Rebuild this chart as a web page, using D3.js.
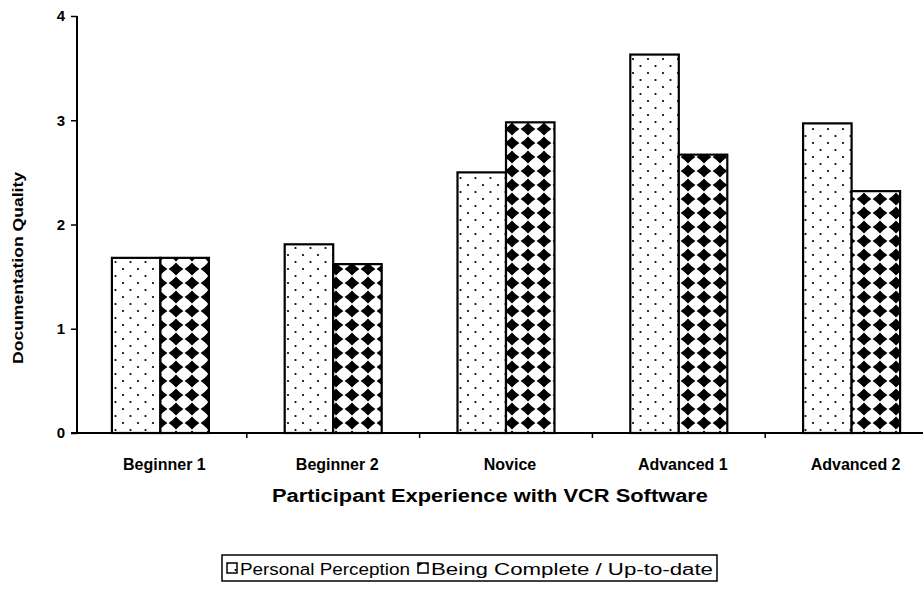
<!DOCTYPE html>
<html>
<head>
<meta charset="utf-8">
<script src="https://cdn.jsdelivr.net/npm/d3@7"></script>
<style>
  html, body { margin: 0; padding: 0; background: #fff; }
  svg { display: block; }
  text { font-family: "Liberation Sans", Arial, sans-serif; fill: #000; }
</style>
</head>
<body>
<script>
// Documentation quality ratings by participant experience group
const categories = ["Beginner 1", "Beginner 2", "Novice", "Advanced 1", "Advanced 2"];
const seriesNames = ["Personal Perception", "Being Complete / Up-to-date"];
const personalPerception = [1.68, 1.81, 2.50, 3.63, 2.97];
const completeUpToDate = [1.68, 1.62, 2.98, 2.67, 2.32];
const yTicks = [0, 1, 2, 3, 4];

const W = 923, H = 594;
const svg = d3.select("body").append("svg").attr("width", W).attr("height", H);

// Fill patterns: sparse dots and a rotated (diamond) checkerboard
const defs = svg.append("defs");
const dots = defs.append("pattern").attr("id", "dots")
  .attr("patternUnits", "userSpaceOnUse").attr("width", 15).attr("height", 14);
dots.append("rect").attr("width", 15).attr("height", 14).attr("fill", "#fff");
[[3, 3], [10.5, 10]].forEach(([cx, cy]) =>
  dots.append("circle").attr("cx", cx).attr("cy", cy).attr("r", 1.1).attr("fill", "#000"));

const checker = defs.append("pattern").attr("id", "checker")
  .attr("patternUnits", "userSpaceOnUse").attr("width", 16).attr("height", 14)
  .attr("x", 0).attr("y", 3);
checker.append("rect").attr("width", 16).attr("height", 14).attr("fill", "#fff");
[[0, 0], [16, 0], [0, 14], [16, 14]].forEach(([cx, cy]) =>
  checker.append("path")
    .attr("d", `M${cx - 7.4},${cy} Q${cx - 3},${cy - 3} ${cx},${cy - 6.6} Q${cx + 3},${cy - 3} ${cx + 7.4},${cy} Q${cx + 3},${cy + 3} ${cx},${cy + 6.6} Q${cx - 3},${cy + 3} ${cx - 7.4},${cy} Z`)
    .attr("fill", "#000"));

const fills = ["url(#dots)", "url(#checker)"];

// Scales
const x0 = d3.scaleBand().domain(categories).range([74, 938]).padding(0);
const x1 = d3.scaleBand().domain(seriesNames).range([0, 97]).padding(0);
const y = d3.scaleLinear().domain([0, 4]).range([433, 16]);

const groupOffset = (x0.bandwidth() - 97) / 2;

// Bars
const rows = categories.map((c, i) => ({ c, vals: [personalPerception[i], completeUpToDate[i]] }));
const g = svg.append("g");
rows.forEach(r => {
  r.vals.forEach((v, j) => {
    g.append("rect")
      .attr("x", x0(r.c) + groupOffset + x1(seriesNames[j]))
      .attr("y", y(v))
      .attr("width", x1.bandwidth())
      .attr("height", y(0) - y(v))
      .attr("fill", fills[j])
      .attr("stroke", "#000")
      .attr("stroke-width", 2.2);
  });
});

// Y axis
const yAxis = d3.axisLeft(y).tickValues(yTicks).tickFormat(d3.format("d")).tickSize(6).tickPadding(6);
const ya = svg.append("g").attr("transform", "translate(77,0)").call(yAxis);
ya.select(".domain").attr("stroke", "#000").attr("stroke-width", 2).attr("d", `M0,${y(4)}V${y(0)}`);
ya.selectAll(".tick line").attr("stroke", "#000").attr("stroke-width", 1.5);
ya.selectAll(".tick text").style("font-size", "15px").style("font-weight", "bold");

// X axis: ticks at category boundaries
const xa = svg.append("g").attr("transform", `translate(0,${y(0)})`);
xa.append("line").attr("x1", 71).attr("x2", W).attr("y1", 0).attr("y2", 0)
  .attr("stroke", "#000").attr("stroke-width", 2);
categories.slice(1).forEach(c => {
  xa.append("line").attr("x1", x0(c)).attr("x2", x0(c)).attr("y1", 0).attr("y2", 5)
    .attr("stroke", "#000").attr("stroke-width", 1.5);
});
categories.forEach(c => {
  xa.append("text")
    .attr("x", x0(c) + x0.bandwidth() / 2 + 4)
    .attr("y", 37)
    .attr("text-anchor", "middle")
    .style("font-size", "16px").style("font-weight", "bold")
    .text(c);
});

// Axis titles
svg.append("text")
  .attr("x", 490).attr("y", 502)
  .attr("text-anchor", "middle")
  .attr("textLength", 436).attr("lengthAdjust", "spacingAndGlyphs")
  .style("font-size", "18px").style("font-weight", "bold")
  .text("Participant Experience with VCR Software");

svg.append("text")
  .attr("transform", "translate(23,268) rotate(-90)")
  .attr("text-anchor", "middle")
  .attr("textLength", 192).attr("lengthAdjust", "spacingAndGlyphs")
  .style("font-size", "15px").style("font-weight", "bold")
  .text("Documentation Quality");

// Legend
const lg = svg.append("g");
lg.append("rect").attr("x", 222).attr("y", 555).attr("width", 495).attr("height", 26)
  .attr("fill", "#fff").attr("stroke", "#000").attr("stroke-width", 1.5);
const legendX = [227, 418];
const legendLen = [170, 282];
seriesNames.forEach((s, j) => {
  lg.append("rect").attr("x", legendX[j]).attr("y", 563).attr("width", 10).attr("height", 10)
    .attr("fill", fills[j]).attr("stroke", "#000").attr("stroke-width", 1.5);
  lg.append("text").attr("x", legendX[j] + 13).attr("y", 575)
    .attr("textLength", legendLen[j]).attr("lengthAdjust", "spacingAndGlyphs")
    .style("font-size", "16px")
    .text(s);
});
</script>
</body>
</html>
